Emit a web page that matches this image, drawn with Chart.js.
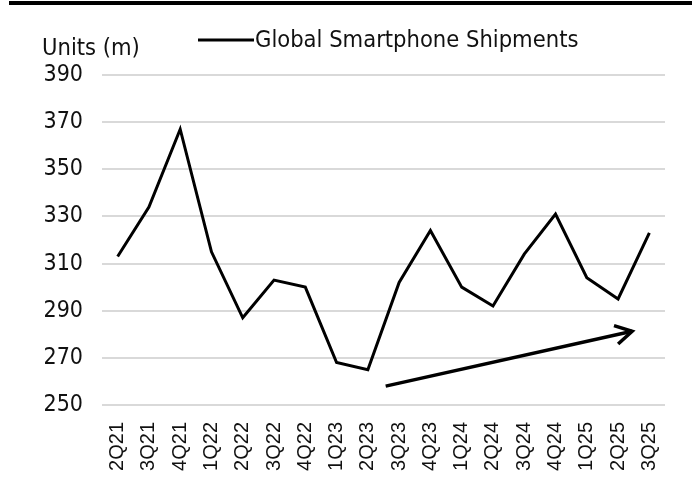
<!DOCTYPE html>
<html>
<head>
<meta charset="utf-8">
<script src="https://cdn.jsdelivr.net/npm/chart.js@4"></script>
<style>
  html, body { margin: 0; padding: 0; background: #fff; }
  #wrap { position: relative; width: 692px; height: 486px; }
  #topbar { position: absolute; left: 9px; top: 1px; width: 683px; height: 4px; background: #000; }
</style>
</head>
<body>
<div id="wrap">
  <div id="topbar"></div>
  <canvas id="c" width="692" height="486"></canvas>
</div>
<script>
const categories = ["2Q21","3Q21","4Q21","1Q22","2Q22","3Q22","4Q22","1Q23","2Q23","3Q23","4Q23","1Q24","2Q24","3Q24","4Q24","1Q25","2Q25","3Q25"];
const shipments = [313, 334, 367, 315, 287, 303, 300, 268, 265, 302, 324, 300, 292, 314, 331, 304, 295, 323];
const seriesName = "Global Smartphone Shipments";
const axisUnit = "Units (m)";
const yTicks = [250, 270, 290, 310, 330, 350, 370, 390];
// trend arrow in data coordinates (category index, value)
const trendArrow = [[8.57, 258], [16.45, 281.3]];

const condensed = '"DejaVu Sans Condensed", "DejaVu Sans", sans-serif';

const overlay = {
  id: 'overlay',
  afterDraw(chart) {
    const ctx = chart.ctx;
    const xs = chart.scales.x, ys = chart.scales.y;
    ctx.save();
    // unit label
    ctx.fillStyle = '#111';
    ctx.font = '23.5px ' + condensed;
    ctx.textBaseline = 'alphabetic';
    ctx.textAlign = 'left';
    ctx.fillText(axisUnit, 42, 55);
    // legend
    ctx.strokeStyle = '#000';
    ctx.lineWidth = 3;
    ctx.beginPath();
    ctx.moveTo(198, 40);
    ctx.lineTo(254, 40);
    ctx.stroke();
    ctx.fillText(seriesName, 255, 47);
    // trend arrow
    const x0 = xs.getPixelForValue(trendArrow[0][0]), y0 = ys.getPixelForValue(trendArrow[0][1]);
    const x1 = xs.getPixelForValue(trendArrow[1][0]), y1 = ys.getPixelForValue(trendArrow[1][1]);
    ctx.lineWidth = 3.5;
    ctx.lineCap = 'butt';
    ctx.beginPath();
    ctx.moveTo(x0, y0);
    ctx.lineTo(x1, y1);
    ctx.stroke();
    const ang = Math.atan2(y1 - y0, x1 - x0);
    const L = 19, spread = 0.52;
    ctx.beginPath();
    ctx.moveTo(x1 - L * Math.cos(ang - spread), y1 - L * Math.sin(ang - spread));
    ctx.lineTo(x1, y1);
    ctx.lineTo(x1 - L * Math.cos(ang + spread), y1 - L * Math.sin(ang + spread));
    ctx.stroke();
    ctx.restore();
  }
};

new Chart(document.getElementById('c'), {
  type: 'line',
  data: {
    labels: categories,
    datasets: [{
      label: seriesName,
      data: shipments,
      borderColor: '#000',
      borderWidth: 3,
      pointRadius: 0,
      tension: 0,
      fill: false
    }]
  },
  options: {
    responsive: false,
    animation: false,
    devicePixelRatio: 1,
    layout: { padding: { top: 75, right: 27, left: 0, bottom: 0 } },
    plugins: { legend: { display: false }, tooltip: { enabled: false } },
    scales: {
      x: {
        type: 'category',
        offset: true,
        grid: { display: false, drawTicks: false },
        border: { display: false },
        ticks: {
          minRotation: 90, maxRotation: 90, autoSkip: false, padding: 17,
          color: '#111',
          font: { family: '"Liberation Sans", Arial, sans-serif', size: 20 }
        },
        afterFit(s) { s.height = 81; }
      },
      y: {
        min: 250, max: 390,
        afterBuildTicks(s) { s.ticks = yTicks.map(v => ({ value: v })); },
        grid: { color: '#d9d9d9', lineWidth: 2, drawTicks: false },
        border: { display: false },
        ticks: {
          padding: 19,
          color: '#111',
          font: { family: condensed, size: 23 }
        },
        afterFit(s) { s.width = 102; }
      }
    }
  },
  plugins: [overlay]
});
</script>
</body>
</html>
